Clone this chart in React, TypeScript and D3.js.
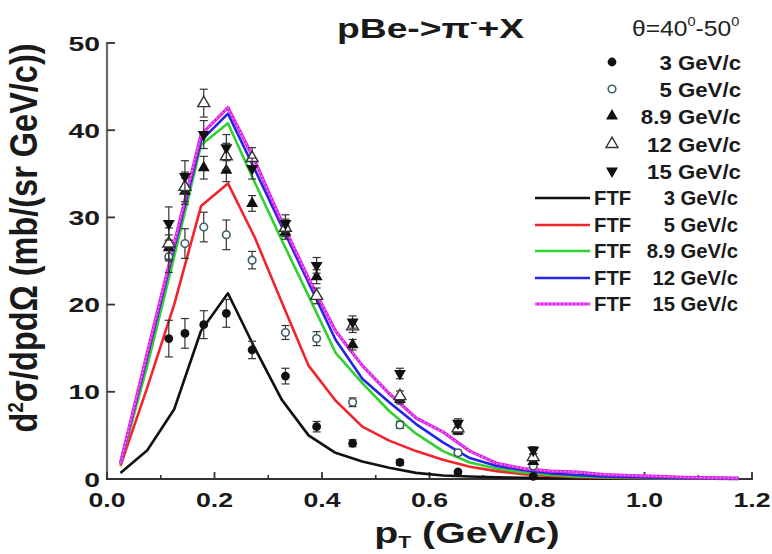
import React from 'react';
import * as d3 from 'd3';

// Measured pT bin centres (GeV/c)
const pT = [0.115, 0.145, 0.18, 0.222, 0.27, 0.332, 0.39, 0.457, 0.545, 0.653, 0.793];

// Measured cross sections d2σ/dpdΩ (mb/(sr GeV/c)) and their errors
const data3 = [16.1, 16.7, 17.7, 19.0, 14.8, 11.8, 6.0, 4.1, 1.9, 0.8, 0.3];
const err3 = [2.1, 1.7, 1.6, 1.6, 1.0, 0.9, 0.6, 0.4, 0.3, 0.2, 0.1];
const data5 = [25.5, 27.0, 28.9, 28.0, 25.1, 16.8, 16.1, 8.8, 6.2, 3.0, 1.5];
const err5 = [1.8, 1.7, 1.7, 1.7, 1.0, 0.8, 0.8, 0.5, 0.4, 0.3, 0.2];
const data89 = [26.5, 33.0, 35.7, 35.4, 31.6, 28.3, 23.2, 15.4, 9.1, 5.5, 2.0];
const err89 = [1.5, 1.5, 1.3, 1.3, 0.9, 0.8, 0.8, 0.6, 0.5, 0.4, 0.3];
const data12 = [27.0, 33.5, 43.1, 37.0, 36.8, 28.8, 21.0, 17.5, 9.5, 5.8, 2.5];
const err12 = [1.8, 1.7, 1.6, 1.5, 1.2, 1.0, 0.9, 0.7, 0.6, 0.5, 0.4];
const data15 = [29.3, 34.7, 39.5, 38.0, 35.6, 29.3, 24.5, 18.0, 12.1, 6.4, 3.3];
const err15 = [1.9, 1.8, 1.6, 1.5, 1.2, 1.0, 0.9, 0.7, 0.6, 0.5, 0.4];

// FTF model predictions on a 0.05 GeV/c grid
const ftfP = [0.025, 0.075, 0.125, 0.175, 0.225, 0.275, 0.325, 0.375, 0.425, 0.475, 0.525, 0.575,
  0.625, 0.675, 0.725, 0.775, 0.825, 0.875, 0.925, 0.975, 1.025, 1.075, 1.125, 1.175];
const ftf3 = [0.7, 3.3, 8.0, 17.0, 21.3, 15.0, 9.1, 5.0, 3.0, 2.0, 1.3, 0.7, 0.4, 0.28, 0.2, 0.14,
  0.1, 0.08, 0.06, 0.05, 0.04, 0.03, 0.03, 0.02];
const ftf5 = [1.5, 10.5, 20.0, 31.3, 33.9, 27.7, 20.3, 13.0, 9.0, 6.0, 4.4, 3.2, 2.2, 1.4, 0.9, 0.55,
  0.35, 0.22, 0.15, 0.1, 0.08, 0.06, 0.05, 0.04];
const ftf89 = [1.7, 13.0, 25.5, 38.3, 40.8, 34.0, 27.4, 21.0, 14.5, 11.0, 7.8, 5.2, 3.2, 1.9, 1.2,
  0.75, 0.45, 0.3, 0.2, 0.15, 0.1, 0.08, 0.06, 0.05];
const ftf12 = [1.8, 14.0, 26.5, 38.8, 41.9, 35.5, 29.0, 22.5, 16.0, 11.5, 8.8, 6.3, 4.2, 2.4, 1.5,
  1.0, 0.65, 0.45, 0.3, 0.2, 0.15, 0.1, 0.08, 0.06];
const ftf15 = [1.8, 14.5, 27.0, 39.5, 42.6, 36.5, 29.5, 23.0, 17.0, 13.0, 9.8, 7.0, 5.4, 3.2, 1.8,
  1.2, 0.9, 0.8, 0.5, 0.4, 0.3, 0.2, 0.15, 0.1];

const xTicks = [0, 0.2, 0.4, 0.6, 0.8, 1.0, 1.2];
const xMinor = [0.1, 0.3, 0.5, 0.7, 0.9, 1.1];
const yTicks = [0, 10, 20, 30, 40, 50];

const energies = ['3 GeV/c', '5 GeV/c', '8.9 GeV/c', '12 GeV/c', '15 GeV/c'];

type Shape = 'dot' | 'ring' | 'up' | 'upOpen' | 'down';

const measured: { values: number[]; errors: number[]; shape: Shape }[] = [
  { values: data3, errors: err3, shape: 'dot' },
  { values: data5, errors: err5, shape: 'ring' },
  { values: data89, errors: err89, shape: 'up' },
  { values: data12, errors: err12, shape: 'upOpen' },
  { values: data15, errors: err15, shape: 'down' },
];

const models = [
  { values: ftf3, color: '#111111', dotted: false },
  { values: ftf5, color: '#f0242a', dotted: false },
  { values: ftf89, color: '#2ed12e', dotted: false },
  { values: ftf12, color: '#2424e8', dotted: false },
  { values: ftf15, color: '#dc1fe4', dotted: true },
];

const font = 'Arial, "Liberation Sans", Helvetica, sans-serif';

function Marker({ shape, cx, cy }: { shape: Shape; cx: number; cy: number }) {
  const tri = d3.symbol().type(d3.symbolTriangle).size(62)() as string;
  if (shape === 'dot') return <circle cx={cx} cy={cy} r={4.4} fill="#111" />;
  if (shape === 'ring')
    return <circle cx={cx} cy={cy} r={3.8} fill="#fff" stroke="#3f5f66" strokeWidth={1.6} />;
  if (shape === 'up') return <path d={tri} transform={`translate(${cx},${cy})`} fill="#111" />;
  if (shape === 'upOpen')
    return <path d={tri} transform={`translate(${cx},${cy})`} fill="#fff" stroke="#333" strokeWidth={1.4} />;
  return <path d={tri} transform={`translate(${cx},${cy}) rotate(180)`} fill="#111" />;
}

export default function App() {
  const x = d3.scaleLinear().domain([0, 1.2]).range([107, 752]);
  const y = d3.scaleLinear().domain([0, 50]).range([479, 43]);

  const line = d3
    .line<number>()
    .x((_, i) => x(ftfP[i]))
    .y((d) => y(d));

  const legendMarkRows = [62, 89, 116, 144, 171];
  const legendLineRows = [198, 225, 251, 278, 304];

  return (
    <svg
      width={772}
      height={554}
      style={{ position: 'absolute', left: 0, top: 0, background: '#fff' }}
      fontFamily={font}
    >
      <rect width={772} height={554} fill="#fff" />

      {/* axes */}
      <line x1={x(0)} x2={x(0)} y1={y(50) - 1} y2={y(0)} stroke="#6a6a6a" strokeWidth={2.2} />
      <line x1={x(0) - 1} x2={x(1.2) + 1} y1={y(0)} y2={y(0)} stroke="#333" strokeWidth={2} />
      {xTicks.map((t) => (
        <line key={'xt' + t} x1={x(t)} x2={x(t)} y1={y(0)} y2={y(0) - 7} stroke="#333" strokeWidth={1.8} />
      ))}
      {xMinor.map((t) => (
        <line key={'xm' + t} x1={x(t)} x2={x(t)} y1={y(0)} y2={y(0) - 4} stroke="#333" strokeWidth={1.6} />
      ))}
      {yTicks.map((t) => (
        <line key={'yt' + t} x1={x(0)} x2={x(0) + 8} y1={y(t)} y2={y(t)} stroke="#333" strokeWidth={1.8} />
      ))}

      {/* tick labels */}
      {xTicks.map((t) => (
        <g key={'xl' + t} transform={`translate(${x(t)},${507}) scale(1.27,1)`}>
          <text textAnchor="middle" fontSize={21} fontWeight="bold" fill="#1a1a1a">
            {d3.format('.1f')(t)}
          </text>
        </g>
      ))}
      {yTicks.map((t) => (
        <g key={'yl' + t} transform={`translate(${100},${y(t) + 7.5}) scale(1.35,1)`}>
          <text textAnchor="end" fontSize={21} fontWeight="bold" fill="#1a1a1a">
            {t}
          </text>
        </g>
      ))}

      {/* axis titles */}
      <g transform="translate(467,543) scale(1.31,1)">
        <text textAnchor="middle" fontSize={30} fontWeight="bold" fill="#1a1a1a">
          p<tspan fontSize={16} dy={5}>T</tspan>
          <tspan dy={-5}> (GeV/c)</tspan>
        </text>
      </g>
      <g transform="translate(37,238) rotate(-90) scale(1,1.18)">
        <text textAnchor="middle" fontSize={32.5} fontWeight="bold" fill="#1a1a1a">
          d<tspan fontSize={19} dy={-12}>2</tspan>
          <tspan dy={12}>σ/dpdΩ (mb/(sr GeV/c))</tspan>
        </text>
      </g>

      {/* title */}
      <g transform="translate(337,38) scale(1.33,1)">
        <text fontSize={28} fontWeight="bold" fill="#1a1a1a">
          pBe-&gt;π<tspan fontSize={17} dy={-11}>-</tspan>
          <tspan dy={11}>+X</tspan>
        </text>
      </g>
      <g transform="translate(632,36) scale(1.12,1)">
        <text fontSize={22} fill="#222">
          θ=40<tspan fontSize={13} dy={-10}>0</tspan>
          <tspan dy={10}>-50</tspan>
          <tspan fontSize={13} dy={-10}>0</tspan>
        </text>
      </g>

      {/* FTF curves */}
      {models.map((m, i) => (
        <g key={'m' + i}>
          <path d={line(m.values) as string} fill="none" stroke={m.color} strokeWidth={m.dotted ? 3.2 : 2.6} strokeLinejoin="round" />
          {m.dotted && (
            <path d={line(m.values) as string} fill="none" stroke="#f07cf4" strokeWidth={1.3} strokeDasharray="2 2" />
          )}
        </g>
      ))}

      {/* measured points with error bars */}
      {measured.map((s, si) => (
        <g key={'s' + si}>
          {s.values.map((v, i) => {
            const cx = x(pT[i]);
            const top = y(v + s.errors[i]);
            const bot = y(Math.max(0, v - s.errors[i]));
            return (
              <g key={i}>
                <line x1={cx} x2={cx} y1={top} y2={bot} stroke="#333" strokeWidth={1.2} />
                <line x1={cx - 4} x2={cx + 4} y1={top} y2={top} stroke="#333" strokeWidth={1.2} />
                <line x1={cx - 4} x2={cx + 4} y1={bot} y2={bot} stroke="#333" strokeWidth={1.2} />
                <Marker shape={s.shape} cx={cx} cy={y(v)} />
              </g>
            );
          })}
        </g>
      ))}

      {/* legend: data */}
      {measured.map((s, i) => (
        <g key={'lm' + i}>
          <Marker shape={s.shape} cx={612} cy={legendMarkRows[i]} />
          <g transform={`translate(741,${legendMarkRows[i] + 7.5}) scale(1.06,1)`}>
            <text textAnchor="end" fontSize={21} fontWeight="bold" fill="#1a1a1a">
              {energies[i]}
            </text>
          </g>
        </g>
      ))}

      {/* legend: model */}
      {models.map((m, i) => (
        <g key={'ll' + i}>
          <line x1={535} x2={590} y1={legendLineRows[i]} y2={legendLineRows[i]} stroke={m.color} strokeWidth={m.dotted ? 3.2 : 2.6} />
          {m.dotted && (
            <line x1={535} x2={590} y1={legendLineRows[i]} y2={legendLineRows[i]} stroke="#f07cf4" strokeWidth={1.3} strokeDasharray="2 2" />
          )}
          <g transform={`translate(594,${legendLineRows[i] + 7}) scale(1.04,1)`}>
            <text fontSize={19.5} fontWeight="bold" fill="#1a1a1a">FTF</text>
          </g>
          <g transform={`translate(738,${legendLineRows[i] + 7}) scale(1.04,1)`}>
            <text textAnchor="end" fontSize={19.5} fontWeight="bold" fill="#1a1a1a">
              {energies[i]}
            </text>
          </g>
        </g>
      ))}
    </svg>
  );
}
